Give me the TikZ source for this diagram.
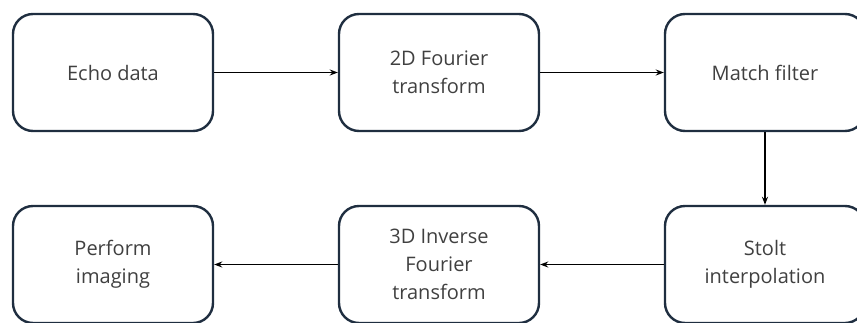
\documentclass[tikz,border=0pt]{standalone}
\usepackage{fontspec}
\setmainfont{Open Sans}
\usetikzlibrary{arrows.meta}
\definecolor{boxline}{HTML}{1F2E40}
\definecolor{txt}{HTML}{404040}
\tikzset{
  stepbox/.style={draw=boxline, line width=2.4pt, rounded corners=20pt, minimum width=200pt, minimum height=117pt, align=center, text=txt, font=\fontsize{20}{28}\selectfont, inner sep=0pt},
  conn/.style={draw=black, line width=1.4pt, -{Stealth[length=8pt,width=6pt]}}
}
\begin{document}
\begin{tikzpicture}[x=1pt,y=1pt]
\useasboundingbox (0,0) rectangle (857,-322);
\node[stepbox] (echo) at (113,-72.5) {Echo data};
\node[stepbox] (fft) at (439,-72.5) {2D Fourier\\transform};
\node[stepbox] (match) at (765,-72.5) {Match filter};
\node[stepbox] (stolt) at (765,-264.5) {Stolt\\interpolation};
\node[stepbox] (ifft) at (439,-264.5) {3D Inverse\\Fourier\\transform};
\node[stepbox] (img) at (113,-264.5) {Perform\\imaging};
\draw[conn] (echo) -- (fft);
\draw[conn] (fft) -- (match);
\draw[conn] (match) -- (stolt);
\draw[conn] (stolt) -- (ifft);
\draw[conn] (ifft) -- (img);
\end{tikzpicture}
\end{document}
